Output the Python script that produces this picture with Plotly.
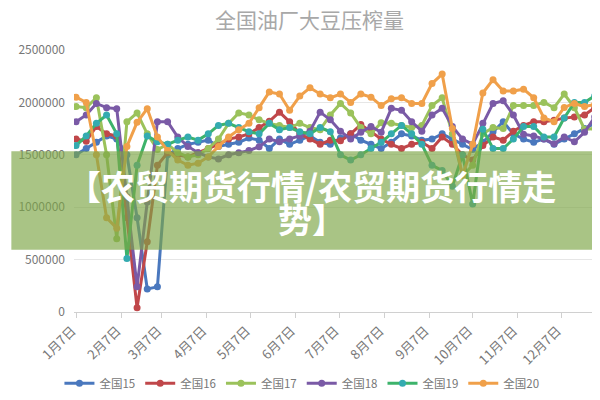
import pandas as pd
import plotly.graph_objects as go

# ---------------- data ----------------
dates = pd.date_range("2019-01-07", periods=52, freq="7D")

tick_dates = ["2019-01-07", "2019-02-07", "2019-03-07", "2019-04-07", "2019-05-07", "2019-06-07",
              "2019-07-07", "2019-08-07", "2019-09-07", "2019-10-07", "2019-11-07", "2019-12-07"]
tick_labels = ["1月7日", "2月7日", "3月7日", "4月7日", "5月7日", "6月7日",
               "7月7日", "8月7日", "9月7日", "10月7日", "11月7日", "12月7日"]

series_names = ["全国15", "全国16", "全国17", "全国18", "全国19", "全国20"]

s15 = [1500, 1560, 1620, 1680, 1650, 1500, 900, 220, 240, 1500, 1560, 1600, 1620, 1640, 1580, 1600,
       1620, 1660, 1640, 1560, 1650, 1600, 1640, 1680, 1620, 1600, 1660, 1700, 1640, 1600, 1560, 1620,
       1700, 1680, 1640, 1650, 1700, 1650, 1600, 1550, 1620, 1720, 1815, 1700, 1650, 1620, 1650, 1600,
       1650, 1700, 1750, 1800]
s16 = [1650, 1630, 1770, 1700, 1680, 900, 40, 670, 1400, 1520, 1500, 1480, 1520, 1560, 1600, 1650,
       1670, 1700, 1760, 1820, 1907, 1815, 1700, 1650, 1600, 1640, 1633, 1700, 1788, 1720, 1650, 1600,
       1560, 1600, 1620, 1560, 1670, 1600, 1500, 1450, 1588, 1670, 1640, 1725, 1780, 1816, 1816, 1830,
       1850, 1860, 1880, 1950]
s17 = [1960, 1950, 2044, 1500, 700, 1815, 1900, 1700, 1550, 1600, 1520, 1480, 1500, 1560, 1650, 1800,
       1900, 1880, 1834, 1800, 1780, 1760, 1800, 1760, 1740, 1880, 1990, 1900, 1760, 1700, 1806, 1800,
       1780, 1761, 1780, 1970, 2044, 1700, 1300, 1400, 1700, 1760, 1750, 1970, 1970, 1970, 2000, 1950,
       2080, 1950, 1743, 1750]
s18 = [1815, 1880, 1990, 1950, 1940, 1100, 240, 1050, 1815, 1815, 1670, 1580, 1520, 1480, 1460, 1500,
       1520, 1540, 1578, 1650, 1624, 1650, 1680, 1725, 1907, 1834, 1725, 1650, 1715, 1770, 1715, 1943,
       1925, 1815, 1725, 1880, 1943, 1770, 1650, 1600, 1800, 1990, 2016, 1880, 1697, 1680, 1650, 1606,
       1670, 1624, 1715, 1860]
s19 = [1588, 1680, 1800, 1880, 1700, 510, 1400, 1680, 1624, 1600, 1640, 1670, 1640, 1700, 1780, 1800,
       1760, 1720, 1700, 1800, 1740, 1760, 1720, 1700, 1760, 1720, 1500, 1450, 1500, 1560, 1620, 1700,
       1780, 1700, 1600, 1400, 1350, 1200, 1500, 1030, 1743, 1560, 1560, 1650, 1770, 1770, 1670, 1670,
       1852, 2000, 2000, 2062]
s20 = [2050, 2000, 1500, 900, 800, 1580, 1810, 1940, 1670, 1540, 1450, 1400, 1420, 1480, 1580, 1670,
       1740, 1800, 1950, 2100, 2080, 1925, 2060, 2140, 2080, 2044, 2080, 2000, 2080, 2050, 1970, 2035,
       2044, 1990, 1990, 2180, 2270, 1750, 1300, 1600, 2090, 2217, 2108, 2108, 2126, 2044, 1852, 1816,
       1952, 1990, 1960, 1980]

series_values = [s15, s16, s17, s18, s19, s20]
line_colors = ["#4a78be", "#c0474a", "#9bc25b", "#7a5aa6", "#3db36b", "#f0a04a"]
marker_colors = ["#4a78be", "#c0474a", "#9bc25b", "#7a5aa6", "#34abb0", "#f0a04a"]

title_text = "全国油厂大豆压榨量"
banner_line1 = "【农贸期货行情/农贸期货行情走"
banner_line2 = "势】"

# ---------------- figure ----------------
fig = go.Figure()
for name, vals, lc, mc in zip(series_names, series_values, line_colors, marker_colors):
    fig.add_trace(go.Scatter(
        x=dates, y=[v * 1000 for v in vals], name=name, mode="lines+markers",
        line=dict(color=lc, width=3),
        marker=dict(color=mc, size=7),
    ))

fig.update_layout(
    width=600, height=400,
    margin=dict(l=63, r=10, t=42, b=84),
    paper_bgcolor="white", plot_bgcolor="white",
    font=dict(family="Noto Sans CJK SC, Noto Sans, sans-serif", color="#666666"),
    showlegend=True,
    legend=dict(orientation="h", x=0.435, xanchor="center", y=-0.272, yanchor="middle",
                font=dict(size=11.5, color="#777777"), itemwidth=30, tracegroupgap=0),
    xaxis=dict(
        type="date", range=["2019-01-05 14:00", "2020-01-01 06:00"],
        tickvals=tick_dates, ticktext=tick_labels, tickangle=-45,
        tickfont=dict(size=13, color="#777777"), ticklabelshift=-4,
        showgrid=False, showline=True, linecolor="#d0d0d0", linewidth=1,
        ticks="outside", ticklen=5, tickcolor="#d0d0d0", zeroline=False,
    ),
    yaxis=dict(
        range=[0, 2500000], tickvals=[0, 500000, 1000000, 1500000, 2000000, 2500000],
        tickformat="d", tickfont=dict(size=12, color="#777777"),
        showgrid=True, gridcolor="#e6e6e6", gridwidth=1, zeroline=False, showline=False,
        ticklabelstandoff=8,
    ),
)

# chart title near the top edge
fig.add_annotation(xref="paper", yref="paper", x=(300 - 63) / 527, y=(316 - 10) / 274,
                   text=title_text, showarrow=False, xanchor="center", yanchor="middle",
                   font=dict(size=21, color="#a8a8a8"))

# translucent banner over the chart
fig.add_shape(type="rect", xref="paper", yref="paper",
              x0=-63 / 527, x1=537 / 527, y0=(316 - 251) / 274, y1=(316 - 148) / 274,
              fillcolor="rgba(125,165,70,0.66)", line=dict(width=0), layer="above")
fig.add_annotation(xref="paper", yref="paper", x=(302 - 63) / 527, y=(316 - 184) / 274,
                   text=banner_line1, showarrow=False, xanchor="center", yanchor="middle",
                   font=dict(size=34, color="white", family="Noto Sans CJK SC", weight="bold"))
fig.add_annotation(xref="paper", yref="paper", x=(302 - 63) / 527, y=(316 - 218) / 274,
                   text=banner_line2, showarrow=False, xanchor="center", yanchor="middle",
                   font=dict(size=34, color="white", family="Noto Sans CJK SC", weight="bold"))

fig.write_html("out.html")
